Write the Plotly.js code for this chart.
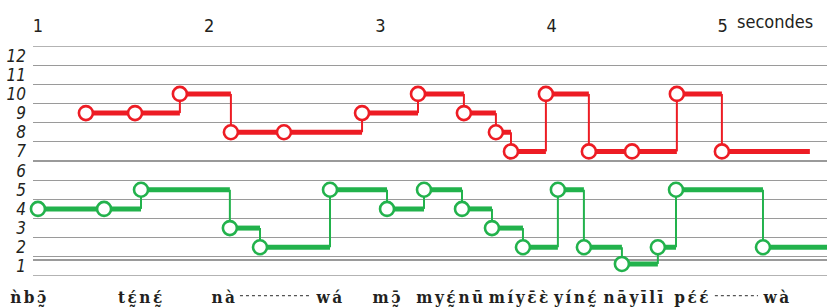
<!DOCTYPE html>
<html><head><meta charset="utf-8">
<script src="https://cdn.plot.ly/plotly-3.0.1.min.js"></script>
<style>html,body{margin:0;padding:0;background:#fff;overflow:hidden}
.syl .annotation-text{letter-spacing:2.5px}</style>
</head><body><div id="chart" style="width:827px;height:308px"></div>
<script>
// Voice 1 (red): start time of each tone (s) and its level
const redTimes  = [1.280, 1.567, 1.829, 2.127, 2.437, 2.893, 3.220, 3.488, 3.675, 3.763, 3.967, 4.218, 4.470, 4.732, 4.995];
const redLevels = [9, 9, 10, 8, 8, 9, 10, 9, 8, 7, 10, 7, 7, 10, 7];
const redEnd = 5.509;
// Voice 2 (green)
const greenTimes  = [1.000, 1.386, 1.602, 2.121, 2.297, 2.706, 3.039, 3.255, 3.477, 3.652, 3.833, 4.037, 4.189, 4.411, 4.621, 4.727, 5.235];
const greenLevels = [4, 4, 5, 3, 2, 5, 4, 5, 4, 3, 2, 5, 2, 1.13, 2, 5, 2];
const greenEnd = 5.609;

const levelTicks  = [1,2,3,4,5,6,7,8,9,10,11,12];
const levelLabels = ["1","2","3","4","5","6","7","8","9","10","11","12"];
const secondTicks  = [1,2,3,4,5];
const secondLabels = ["1","2","3","4","5"];
const unitLabel = "secondes";

const syllables = ["\u01F9b\u0254\u0330\u0304", "t\u025B\u0330\u0301n\u025B\u0330\u0301", "n\u00E0", "w\u00E1", "m\u0254\u0330\u0304",
  "my\u025B\u0330\u0301", "n\u016B", "m\u00EDy\u025B\u0304\u025B\u0300", "y\u00EDn\u025B\u0330\u0301", "n\u0101y\u012Bl\u012B", "p\u025B\u0301\u025B\u0301", "w\u00E0"];
const syllableTimes = [0.924, 1.607, 2.092, 2.706, 3.044, 3.331, 3.535, 3.815, 4.143, 4.487, 4.826, 5.317];
const leaders = [[2.180, 2.589], [4.954, 5.206]];

const RED = '#ed1c24', GREEN = '#22b24c';

function steps(times, levels, end) {
  const hx = [], hy = [], vx = [], vy = [];
  for (let i = 0; i < times.length; i++) {
    const next = i + 1 < times.length ? times[i + 1] : end;
    hx.push(times[i], next, null); hy.push(levels[i], levels[i], null);
    if (i + 1 < times.length) { vx.push(next, next, null); vy.push(levels[i], levels[i + 1], null); }
  }
  return {hx, hy, vx, vy};
}
function traces(times, levels, end, color) {
  const s = steps(times, levels, end);
  return [
    {x: s.vx, y: s.vy, mode: 'lines', line: {color, width: 2}, hoverinfo: 'skip', showlegend: false},
    {x: s.hx, y: s.hy, mode: 'lines', line: {color, width: 5}, hoverinfo: 'skip', showlegend: false},
    {x: times, y: levels, mode: 'markers', cliponaxis: false, showlegend: false,
     marker: {symbol: 'circle', size: 14, color: '#ffffff', line: {color, width: 2.6}}}
  ];
}

const data = [...traces(redTimes, redLevels, redEnd, RED), ...traces(greenTimes, greenLevels, greenEnd, GREEN)];

const gridVals = [];
for (let v = 1.5; v <= 11.5; v += 1) gridVals.push(v);
gridVals.push(1.335);

const sansN = '"Liberation Sans Narrow", "DejaVu Sans Condensed", Roboto, sans-serif';
const annotations = syllables.map((s, i) => ({
  x: i === 0 ? 1.0 : syllableTimes[i], xshift: i === 0 ? -8 : 0,
  xref: 'x', yref: 'paper', y: 0, yanchor: 'middle', yshift: -21,
  text: s, showarrow: false,
  font: {family: '"DejaVu Serif Condensed", "DejaVu Serif", serif', size: 17, weight: 'bold', color: '#231f20'}
}));
annotations.push({x: 5, xref: 'x', yref: 'paper', y: 1, yanchor: 'middle', xanchor: 'left', xshift: 12, yshift: 25,
  text: unitLabel, showarrow: false, font: {family: sansN, size: 18, color: '#231f20'}});

const shapes = leaders.map(l => ({type: 'line', xref: 'x', yref: 'paper', x0: l[0], x1: l[1], y0: -0.085, y1: -0.085,
  line: {color: '#555', width: 1.2, dash: 'dot'}}));
[0.5, 12.5].forEach(v => shapes.push({type: 'line', xref: 'paper', yref: 'y', x0: 0, x1: 1, y0: v, y1: v,
  layer: 'below', line: {color: '#9a9a9a', width: 1.3}}));

const layout = {
  width: 827, height: 308,
  margin: {l: 33, r: 0, t: 46, b: 32},
  paper_bgcolor: '#fff', plot_bgcolor: '#fff',
  xaxis: {range: [0.971, 5.609], side: 'top', tickvals: secondTicks, ticktext: secondLabels,
    showgrid: false, zeroline: false, showline: false, ticks: '', ticklabelstandoff: 9,
    tickfont: {family: sansN, size: 18, color: '#231f20'}},
  yaxis: {range: [0.5, 12.5], tickvals: levelTicks, ticktext: levelLabels, showgrid: false, zeroline: false,
    showline: false, ticks: '', ticklabelstandoff: 6,
    tickfont: {family: sansN, size: 17, style: 'italic', color: '#231f20'},
    minor: {tickvals: gridVals, showgrid: true, gridcolor: '#9a9a9a', gridwidth: 1.3, ticks: ''}},
  annotations, shapes, showlegend: false
};
Plotly.newPlot('chart', data, layout, {staticPlot: true}).then(() => {
  document.querySelectorAll('.annotation').forEach((g, i) => { if (i < syllables.length) g.classList.add('syl'); });
});
</script></body></html>
